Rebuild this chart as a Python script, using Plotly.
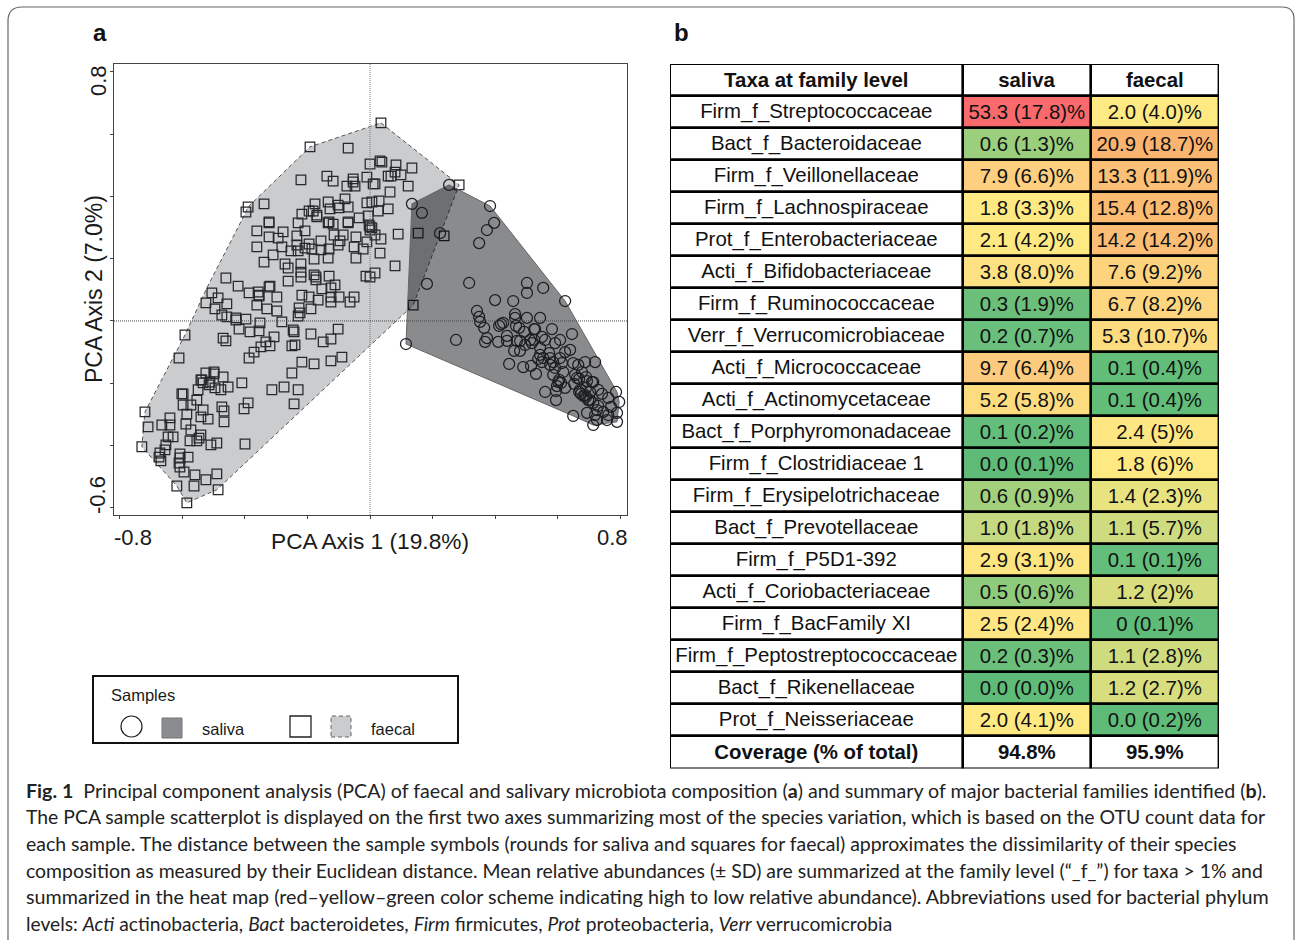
import plotly.graph_objects as go

W, H = 1295, 940
# ---------- PCA sample scores ----------
faecal_x = [-.592,-.611,-.720,-.710,-.730,-.666,-.640,-.640,-.646,-.630,-.653,-.656,-.672,-.675,-.669,-.598,-.602,-.598,-.573,-.554,-.550,-.586,-.589,-.573,-.534,-.541,-.518,-.541,-.547,-.554,-.576,-.509,-.490,-.608,-.582,-.608,-.611,-.608,-.595,-.560,-.525,-.490,-.563,-.618,-.486,-.586,-.541,-.538,-.525,-.499,-.499,-.470,-.534,-.512,-.515,-.496,-.477,-.454,-.410,-.474,-.467,-.467,-.390,-.403,-.400,-.314,-.275,-.230,-.243,-.250,-.218,-.179,-.125,-.090,-.387,-.371,-.349,-.333,-.320,-.307,-.250,-.240,-.189,-.150,-.125,-.102,-.470,-.461,-.384,-.355,-.419,-.352,-.282,-.246,-.243,-.397,-.429,-.429,-.458,-.474,-.496,-.525,-.458,-.486,-.506,-.362,-.330,-.298,-.227,-.224,-.230,-.189,-.387,-.355,-.298,-.218,-.195,-.166,-.125,-.125,-.099,-.064,-.051,-.323,-.230,-.362,-.323,-.294,-.278,-.208,-.234,-.362,-.282,-.310,-.339,-.253,-.234,-.230,-.208,-.195,-.186,-.157,-.157,-.131,-.179,-.134,-.272,-.262,-.221,-.221,-.221,-.262,-.179,-.173,-.173,-.131,-.112,-.154,-.125,-.461,-.422,-.358,-.355,-.323,-.320,-.118,-.134,0,.006,.016,.035,.090,-.010,-.022,-.051,-.045,-.086,-.102,-.115,-.096,-.045,.032,.080,.016,0,-.013,-.070,0,.035,-.192,-.070,0,.032,.038,.083,.134,-.221,-.138,-.118,-.054,-.054,-.074,-.048,-.010,.010,.016,.058,.067,.080,.099,.122,.064,.285,-.390,-.397,-.339,-.323,-.176,-.134,-.080,-.218,-.195,-.182,-.170,-.170,-.128,-.102,-.099,-.070,-.070,-.035,-.131,-.010,.006,.029,.026,.058,-.006,-.003,.154,.237,.138]
faecal_y = [-.045,-.119,-.292,-.340,-.404,-.334,-.311,-.334,-.372,-.372,-.398,-.414,-.424,-.437,-.449,-.234,-.234,-.270,-.270,-.254,-.221,-.299,-.331,-.350,-.286,-.308,-.315,-.366,-.376,-.385,-.385,-.398,-.392,-.427,-.437,-.440,-.456,-.469,-.485,-.494,-.510,-.491,-.530,-.530,-.542,-.584,-.189,-.189,-.167,-.164,-.170,-.180,-.199,-.196,-.205,-.215,-.221,-.212,-.199,-.276,-.289,-.324,-.263,-.282,-.395,-.221,-.212,-.221,-.266,-.167,-.132,-.138,-.128,-.116,-.119,-.100,-.083,-.067,-.080,-.051,-.080,-.077,-.042,-.067,-.058,-.026,-.055,-.064,-.035,-.032,-.026,-.006,-.003,-.029,-.035,.006,.010,.003,.013,.019,.039,.058,.055,.074,.090,.051,.039,.032,.042,.026,.016,.039,.090,.083,.077,.083,.077,.067,.077,.061,.077,.061,.077,.315,.315,.289,.270,.266,.286,.289,.273,.238,.238,.212,.189,.225,.244,.225,.234,.247,.231,.257,.228,.231,.199,.202,.183,.170,.183,.157,.141,.128,.148,.141,.132,.144,.116,.103,.106,.138,.112,.093,.080,.109,.112,.311,.315,.302,.299,.276,.263,.279,.254,.231,.238,.270,.276,.244,.276,.257,.202,.218,.177,.154,.141,.144,.318,.292,.636,.559,.555,.504,.514,.510,.501,.491,.453,.465,.449,.456,.446,.433,.433,.462,.440,.440,.465,.465,.478,.469,.433,.414,.437,.366,.350,.376,.318,.376,.382,.392,.343,.353,.353,.340,.334,.360,.372,.363,.366,.315,.331,.318,.379,.382,.385,.353,.360,.337,.308,.282,.273,.051]
saliva_x = [.253,.134,.166,.224,.384,.397,.374,.349,.182,.317,.502,.554,.502,.624,.400,.458,.342,.349,.352,.365,.464,.464,.502,.544,.467,.477,.493,.525,.582,.646,.426,.419,.413,.438,.374,.368,.410,.438,.470,.480,.275,.115,.512,.525,.550,.518,.608,.592,.544,.640,.461,.480,.445,.490,.515,.531,.560,.595,.595,.650,.714,.528,.544,.538,.554,.573,.576,.550,.586,.608,.576,.614,.618,.592,.586,.650,.666,.688,.720,.678,.656,.669,.691,.602,.611,.605,.598,.624,.653,.669,.675,.682,.691,.698,.710,.691,.730,.742,.762,.787,.797,.790,.790,.771,.762,.758,.730,.726,.720,.726,.694,.704,.714,.746,.688,.672,.704,.496,.560,.624,.662,.694,.714]
saliva_y = [.437,.376,.347,.282,.369,.315,.292,.250,.119,.122,.122,.106,.090,.064,.067,.064,.032,.013,-.003,-.022,.022,.010,.010,.010,-.016,-.022,-.035,-.026,-.026,-.042,-.006,-.010,-.016,-.048,-.055,-.067,-.067,-.064,-.064,-.064,-.061,-.074,-.061,-.061,-.051,-.071,-.061,-.071,-.087,-.093,-.096,-.096,-.138,-.148,-.144,-.170,-.228,-.225,-.254,-.305,-.334,-.026,-.109,-.122,-.119,-.103,-.119,-.132,-.132,-.119,-.141,-.135,-.164,-.151,-.173,-.135,-.141,-.132,-.132,-.164,-.173,-.186,-.180,-.196,-.199,-.189,-.209,-.215,-.202,-.228,-.234,-.241,-.244,-.254,-.196,-.215,-.221,-.234,-.247,-.228,-.260,-.295,-.324,-.276,-.302,-.318,-.273,-.286,-.302,-.318,-.295,-.254,-.263,-.292,-.238,-.221,-.228,-.077,-.061,-.100,-.183,-.193,-.196]
# ---------- convex hulls ----------
faecal_hull_x = [.035,.285,.138,-.490,-.586,-.618,-.730,-.720,-.592,-.522,-.397,-.390,-.192,.035]
faecal_hull_y = [.636,.437,.051,-.542,-.584,-.530,-.404,-.292,-.045,.106,.350,.366,.559,.636]
saliva_hull_x = [.253,.384,.624,.790,.797,.790,.714,.650,.115,.134,.253]
saliva_hull_y = [.437,.369,.064,-.228,-.260,-.324,-.334,-.305,-.074,.376,.437]
# ---------- table ----------
taxa = ["Firm_f_Streptococcaceae","Bact_f_Bacteroidaceae","Firm_f_Veillonellaceae","Firm_f_Lachnospiraceae","Prot_f_Enterobacteriaceae","Acti_f_Bifidobacteriaceae","Firm_f_Ruminococcaceae","Verr_f_Verrucomicrobiaceae","Acti_f_Micrococcaceae","Acti_f_Actinomycetaceae","Bact_f_Porphyromonadaceae","Firm_f_Clostridiaceae 1","Firm_f_Erysipelotrichaceae","Bact_f_Prevotellaceae","Firm_f_P5D1-392","Acti_f_Coriobacteriaceae","Firm_f_BacFamily XI","Firm_f_Peptostreptococcaceae","Bact_f_Rikenellaceae","Prot_f_Neisseriaceae"]
saliva_vals = ["53.3 (17.8)%","0.6 (1.3)%","7.9 (6.6)%","1.8 (3.3)%","2.1 (4.2)%","3.8 (8.0)%","0.3 (1.9)%","0.2 (0.7)%","9.7 (6.4)%","5.2 (5.8)%","0.1 (0.2)%","0.0 (0.1)%","0.6 (0.9)%","1.0 (1.8)%","2.9 (3.1)%","0.5 (0.6)%","2.5 (2.4)%","0.2 (0.3)%","0.0 (0.0)%","2.0 (4.1)%"]
faecal_vals = ["2.0 (4.0)%","20.9 (18.7)%","13.3 (11.9)%","15.4 (12.8)%","14.2 (14.2)%","7.6 (9.2)%","6.7 (8.2)%","5.3 (10.7)%","0.1 (0.4)%","0.1 (0.4)%","2.4 (5)%","1.8 (6)%","1.4 (2.3)%","1.1 (5.7)%","0.1 (0.1)%","1.2 (2)%","0 (0.1)%","1.1 (2.8)%","1.2 (2.7)%","0.0 (0.2)%"]
saliva_colors = ["#F96A6C","#9BCF7D","#FDCF7F","#FEE983","#FEE983","#FDE182","#6CBF7A","#69BF7B","#FDCB7D","#FDDC80","#64BE7B","#5FBB78","#A3D07C","#C5D980","#FDE582","#8FCB7C","#FEE682","#6BBF7A","#5FBB78","#FEE983"]
faecal_colors = ["#FFE983","#FAB46F","#FBC075","#FBBC72","#FBBE74","#FDD37E","#FDD67F","#FDDC80","#62BD79","#62BD79","#FEE782","#FFE983","#E8E37F","#CFDB7F","#64BE7B","#D8DD7E","#5FBB78","#CFDB7F","#D8DD7E","#5FBB78"]
coverage = ["Coverage (% of total)","94.8%","95.9%"]
headers = ["Taxa at family level","saliva","faecal"]
column_widths = [293, 128, 128]
caption = [
 "<b>Fig. 1</b>  Principal component analysis (PCA) of faecal and salivary microbiota composition (<b>a</b>) and summary of major bacterial families identified (<b>b</b>).",
 "The PCA sample scatterplot is displayed on the first two axes summarizing most of the species variation, which is based on the OTU count data for",
 "each sample. The distance between the sample symbols (rounds for saliva and squares for faecal) approximates the dissimilarity of their species",
 "composition as measured by their Euclidean distance. Mean relative abundances (± SD) are summarized at the family level (“_f_”) for taxa > 1% and",
 "summarized in the heat map (red–yellow–green color scheme indicating high to low relative abundance). Abbreviations used for bacterial phylum",
 "levels: <i>Acti</i> actinobacteria, <i>Bact</i> bacteroidetes, <i>Firm</i> firmicutes, <i>Prot</i> proteobacteria, <i>Verr</i> verrucomicrobia",
]
caption_y = [790.5, 816.5, 843.5, 870.5, 896.5, 923.5]
caption_size = [19.65, 19.4, 19.45, 19.4, 19.7, 19.2]

def PX(x): return x / W
def PY(y): return 1 - y / H

ARIAL = "Liberation Sans, Arial, sans-serif"
CAP = "Lato, Noto Sans, sans-serif"
fig = go.Figure()
fig.add_trace(go.Scatter(x=faecal_hull_x, y=faecal_hull_y, mode="lines", fill="toself",
    fillcolor="#CBCCCE", line=dict(color="#555", width=1, dash="4px,3px"), showlegend=False, hoverinfo="skip"))
fig.add_trace(go.Scatter(x=faecal_x, y=faecal_y, mode="markers", showlegend=False,
    marker=dict(symbol="square-open", size=9.6, color="#26282b", line=dict(width=1.25))))
fig.add_trace(go.Scatter(x=saliva_hull_x, y=saliva_hull_y, mode="lines", fill="toself",
    fillcolor="rgba(0,2,5,0.46)", line=dict(color="#666", width=1), showlegend=False, hoverinfo="skip"))
fig.add_trace(go.Scatter(x=saliva_x, y=saliva_y, mode="markers", showlegend=False,
    marker=dict(symbol="circle-open", size=11, color="#1c1e22", line=dict(width=1.25))))

# table drawn as stacked horizontal cells
rows = list(range(22))
col_text = [
    [f"<b>{headers[0]}</b>"] + taxa + [f"<b>{coverage[0]}</b>"],
    [f"<b>{headers[1]}</b>"] + saliva_vals + [f"<b>{coverage[1]}</b>"],
    [f"<b>{headers[2]}</b>"] + faecal_vals + [f"<b>{coverage[2]}</b>"],
]
col_fill = [
    ["white"] * 22,
    ["white"] + saliva_colors + ["white"],
    ["white"] + faecal_colors + ["white"],
]
base = 0
for text, fill, width in zip(col_text, col_fill, column_widths):
    fig.add_trace(go.Bar(y=rows, x=[width] * 22, base=base, orientation="h", xaxis="x2", yaxis="y2",
        width=1, marker=dict(color=fill, line=dict(color="black", width=2.4)), text=text,
        textposition="inside", insidetextanchor="middle", textangle=0, constraintext="none",
        insidetextfont=dict(family=ARIAL, size=20.4, color="#111"), cliponaxis=False, showlegend=False, hoverinfo="skip"))
    base += width

tick_x = [-.8, -.6, -.4, -.2, 0, .2, .4, .6, .8]
tick_y = [-.6, -.4, -.2, 0, .2, .4, .6, .8]
axis_common = dict(showgrid=False, zeroline=False, showline=True, mirror=True, linecolor="#444", linewidth=1.3,
                   ticks="outside", ticklen=3, tickwidth=1, tickcolor="#444", showticklabels=False)
fig.update_layout(
    xaxis=dict(domain=[PX(114), PX(627)], range=[-.819, .822], tickvals=tick_x, **axis_common),
    yaxis=dict(domain=[PY(515), PY(64)], range=[-.623, .825], tickvals=tick_y, **axis_common),
    xaxis2=dict(domain=[PX(670), PX(1219)], range=[0, sum(column_widths)], visible=False, anchor="y2"),
    yaxis2=dict(domain=[PY(768.5), PY(64)], range=[21.5, -0.5], visible=False, anchor="x2"),
    barmode="overlay", bargap=0,
)

shapes = [
    dict(type="line", xref="x", yref="y", x0=0, x1=0, y0=-.623, y1=.825, layer="above", line=dict(color="#777", width=1, dash="1px,1px")),
    dict(type="line", xref="x", yref="y", x0=-.819, x1=.822, y0=0, y1=0, layer="above", line=dict(color="#444", width=1, dash="1px,1px")),
    # card outline
    dict(type="path", xref="paper", yref="paper", line=dict(color="#666", width=1.2),
         path=f"M {PX(8)} 0 L {PX(8)} {PY(21)} Q {PX(8)} {PY(7)} {PX(22)} {PY(7)} L {PX(1282)} {PY(7)} Q {PX(1294)} {PY(7)} {PX(1294)} {PY(19)} L {PX(1294)} 0"),
    # legend box
    dict(type="rect", xref="paper", yref="paper", x0=PX(93), x1=PX(458), y0=PY(743), y1=PY(676), line=dict(color="#111", width=2), fillcolor="white"),
    dict(type="circle", xref="paper", yref="paper", x0=PX(121), x1=PX(142), y0=PY(737), y1=PY(716), line=dict(color="#222", width=1.2), fillcolor="white"),
    dict(type="rect", xref="paper", yref="paper", x0=PX(162), x1=PX(182), y0=PY(738), y1=PY(718), line=dict(color="#777", width=1), fillcolor="#8A8C8F"),
    dict(type="rect", xref="paper", yref="paper", x0=PX(290), x1=PX(311), y0=PY(737), y1=PY(716), line=dict(color="#222", width=1.3), fillcolor="white"),
    dict(type="rect", xref="paper", yref="paper", x0=PX(331), x1=PX(351), y0=PY(737), y1=PY(716), line=dict(color="#666", width=1, dash="4px,3px"), fillcolor="#CBCCCE"),
]

def note(x, y, text, size, family=ARIAL, xanchor="center", color="#1a1a1a", angle=0):
    return dict(xref="paper", yref="paper", x=PX(x), y=PY(y), text=text, showarrow=False, xanchor=xanchor, yanchor="middle",
                textangle=angle, font=dict(family=family, size=size, color=color))

annotations = [
    note(100, 32, "<b>a</b>", 24, color="#111"), note(681, 32, "<b>b</b>", 24, color="#111"),
    note(133, 537, "-0.8", 22), note(612, 537, "0.8", 22),
    note(370, 541, "PCA Axis 1 (19.8%)", 22.7),
    note(98, 81, "0.8", 22, angle=-90), note(98, 495, "-0.6", 22, angle=-90),
    note(94, 289, "PCA Axis 2 (7.0%)", 23, angle=-90),
    note(109, 695, "Samples", 16.5, xanchor="left"),
    note(200, 729, "saliva", 16.5, xanchor="left"), note(369, 729, "faecal", 16.5, xanchor="left"),
]
for line, y, size in zip(caption, caption_y, caption_size):
    annotations.append(note(24, y, line, size, family=CAP, xanchor="left", color="#222"))

fig.update_layout(width=W, height=H, margin=dict(l=0, r=0, t=0, b=0), paper_bgcolor="white", plot_bgcolor="white",
                  shapes=shapes, annotations=annotations, showlegend=False)
fig.write_html("out.html", config=dict(displayModeBar=False), post_script="document.body.style.margin='0';document.body.style.overflow='hidden';")
